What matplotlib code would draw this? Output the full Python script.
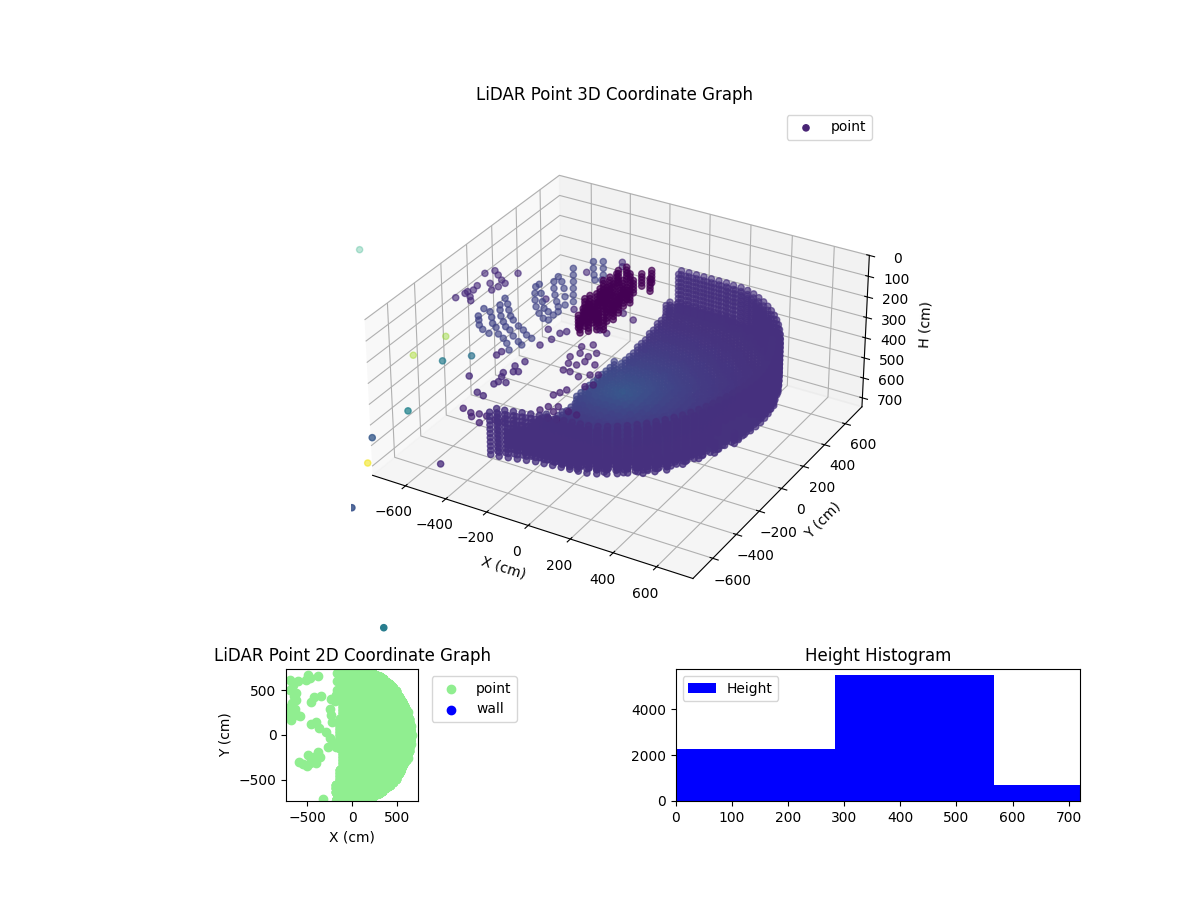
import numpy as np
import matplotlib
matplotlib.use('Agg')
import matplotlib.pyplot as plt

wall_x = [-186, -148, -110, -72, -34, 4, 42, 80, 118, 156, 194,
          232, 270, 306, 342, 376, 408, 438, 466, 492, 516, 538, 558, 576, 592, 606, 618, 630, 640, 648, 656, 660,
          662, 660, 656, 648, 638, 628, 616, 602, 586, 568, 548, 526, 502, 476, 448, 418, 386, 352, 316, 280, 242,
          204, 166, 128, 90, 52, 14, -24, -62, -100]
wall_y = [-765, -760, -750, -740, -730, -720, -715, -710, -705, -700, -695,
          -690, -675, -655, -632, -606, -578, -548, -516, -482, -446, -410, -372, -334, -296, -258, -218, -180, -140, -100, -60, -20,
          20, 60, 100, 140, 180, 218, 258, 296, 334, 372, 410, 446, 482, 516, 548, 578, 606, 632, 655, 675, 690,
          700, 700, 705, 705, 705, 705, 705, 705, 705]
wall_heights = [270, 290, 310, 330, 350, 370, 390, 410, 430, 450, 470]
wall_layers = [0.98, 0.93]

floor_x_grid = [-280, -245, -210, -175, -140, -105, -70, -35, 0, 35, 70, 105, 140, 175, 210, 245, 280, 315,
                350, 385, 420, 455, 490, 525, 560, 595, 630]
floor_y = [-665, -630, -595, -560, -525, -490, -455, -420, -385, -350, -315, -280, -245, -210, -175, -140, -105,
           -70, -35, 0, 35, 70, 105, 140, 175, 210, 245, 280, 315, 350, 385, 420, 455, 490, 525, 560, 595, 630, 665]
floor_x_start = [-170, -180, -180, -175, -170, -165, -165, -160, -150, -130, -110, -105, -105, -110, -130, -150, -170,
                 -170, -170, -170, -165, -160, -150, -150, -140, -135, -130, -125, -120, -120, -120, -120, -120, -120, -125, -130, -135, -140, -145]
floor_x_end = [180, 290, 380, 430, 465, 490, 515, 535, 555, 570, 585, 600, 610, 620, 630, 640, 645,
               650, 655, 655, 655, 650, 645, 640, 630, 625, 615, 605, 590, 575, 555, 535, 515, 490, 465, 430, 380, 290, 180]
# floor height by distance band from the scanner
floor_band_edges = [100, 200, 300, 400, 500, 600]
floor_band_heights = [530, 520, 508, 495, 480, 465, 450]
floor_layers = [-24, -8, 8, 24]

clutter_x = [-581, -610, -634, -650, -657, -595, -583, -575, -568, -561, -546, -532, -520, -505, -553, -554, -547, -536, -529, -522, -506, -485, -481,
             -566, -554, -546, -536, -532, -509, -496, -485, -474, -507, -511, -511, -509, -499, -491, -496, -505, -488, -476, -472, -472, -469, -498,
             -463, -480, -493, -503, -521, -470, -482, -490, -495, -503, -453, -460, -467, -474, -481, -487, -409, -441, -471, -507, -372, -403, -435, -481]
clutter_y = [-205, -158, -119, -69, -10, -139, -111, -111, -116, -101, -107, -91, -83, -90, -78, -77, -82, -81, -75, -53, -53, -46, -26,
             -17, -16, -20, -23, -9, -5, 13, 21, 44, 137, 136, 136, 140, 147, 168, 219, 163, 149, 139, 145, 179, 215, 304,
             215, 242, 271, 301, 343, 263, 311, 342, 358, 371, 361, 372, 384, 394, 405, 415, 458, 511, 567, 636, 480, 533, 587, 651]
clutter_h = [200, 250, 300, 350, 400, 200, 225, 250, 275, 300, 325, 350, 375, 400, 200, 225, 250, 275, 300, 325, 350, 375, 400,
             200, 225, 250, 275, 300, 325, 350, 375, 400, 200, 233, 266, 300, 333, 366, 400, 200, 233, 266, 300, 333, 366, 400,
             200, 250, 300, 350, 400, 200, 250, 300, 350, 400, 200, 240, 280, 320, 360, 400, 200, 266, 333, 400, 200, 266, 333, 400]
clutter_colour = 0.2

blob_x = [-117, -171, -181, -190, -122, -80, -75, -100, -139, -148, -165, -155, -131, -114, -83, -58, -49, -172, -176, -141, -123, -113, -96, -72, -47,
          -138, -126, -110, -100, -76, -53, -37, -79, -57, -26, -165, -180, -99, -76, -53, -29]
blob_y = [213, 250, 210, 171, 279, 234, 169, 155, 166, 127, 100, 55, 69, 96, 97, 111, 150, 28, -7, -37, -27, -4, 22, 36, 50,
          -85, -144, -118, -80, -66, -36, -10, 304, 351, 282, 324, 280, -177, -148, -119, -105]
blob_layers = [100, 115, 130, 145, 160]
blob_colour = 0.0

mid_x = [-244, -177, -257, -217, -216, -251, -228, -167, -183, -174, -123, -133, -98, -68, -250, -227, -217, -185, -190,
         -146, -132, -119, -67, -44, -131, -76, -115, -79, -23, 20, -67, -30]
mid_y = [433, 403, 254, 243, 127, 89, 37, 72, 30, -14, -17, -136, -100, -82, -9, -61, -120, -118, -56,
         -318, -288, -255, -194, -165, -449, -433, -409, -389, -402, -408, -489, -483]
mid_height = 400
mid_colour = 0.1

front_x = [-458, -412, -376, -341, -338, -392, -294, -257, -214, -178]
front_y = [-526, -540, -531, -530, -590, -565, -540, -534, -524, -519]
front_height = 450

sparse_x = [-863, -838, -804, -766, -737, -794, -755, -746, -737, -831, -838, -839, -804, -782, -853, -824, -391, -370, -480, -319, -355,
            -508, -360, -303, -299, -282, -433, -430, -320, -438, -301, -318, -299, -281, -331, -319, -278, -315, -309, -338, -302]
sparse_y = [287, 330, 303, 271, 253, 220, 172, 212, 360, 174, 107, 88, 74, 45, 35, 132, 679, 643, 519, 601, 201,
            220, -4, -71, -9, 18, -300, -265, -137, -504, -288, -339, -383, -372, -410, -442, -474, -508, -483, -599, -610]
sparse_height = 300
sparse_colour = 0.12

outlier_x = [-2817, -1500, -1534, -602, -520, -501, -509, -1174, -346, -286, 265]
outlier_y = [2058, 905, 675, -454, -358, -864, -1108, -232, -872, -1572, -2168]
outlier_h = [1500, 1100, 1100, 300, 300, 300, 300, 1100, 500, 300, 300]
outlier_c = [0.62, 0.85, 0.87, 0.42, 0.38, 0.45, 0.28, 0.98, 0.12, 0.26, 0.42]

# points seen only in the flat view
flat_x = [-694, -608, -694, -627, -627, -694, -664, -683, -578, -496, -515, -384, -422, -347, -459, -235, -459, -403, -366,
          -590, -496, -384, -440, -507, -403, -272, -321, -250, -240, -220, -290, -250, -210, -180,
          -170, -170, -170, -175, -190, -660, -650, -670, -640, -700, -620, -470, -420, -470, -360, -550,
          665, 660, 660, 620, 620]
flat_y = [616, 597, 504, 466, 392, 317, 243, 168, 213, 672, 616, 653, 422, 429, 366, 399, 119, 149, 75,
          -299, -224, -187, -280, -347, -310, -131, -709, 290, 220, 150, 30, -30, -90, -130,
          690, 600, 500, 440, 380, 560, 430, 360, 290, 230, 220, 640, -250, -310, -250, -320,
          0, 100, -100, 260, -260]

hist_edges = [0, 283.5, 567, 850]
hist_counts = [2280, 5480, 680]

# expand wall columns and floor rows into points
px, py, ph = [], [], []
for x, y in zip(wall_x, wall_y):
    for layer in wall_layers:
        for h in wall_heights:
            px.append(x * layer)
            py.append(y * layer)
            ph.append(h)
for y, x0, x1 in zip(floor_y, floor_x_start, floor_x_end):
    for x in floor_x_grid:
        if x0 <= x <= x1:
            band = np.digitize(np.hypot(x, y), floor_band_edges)
            for dh in floor_layers:
                px.append(x)
                py.append(y)
                ph.append(floor_band_heights[band] + dh)
px, py, ph = np.array(px), np.array(py), np.array(ph)
colour = 0.14 + 0.13 * (ph / 500) * np.clip(1 - np.hypot(px, py) / 700, 0, 1) ** 2

blob_xs = np.tile(blob_x, len(blob_layers))
blob_ys = np.tile(blob_y, len(blob_layers))
blob_hs = np.repeat(blob_layers, len(blob_x))

# mid points come first, the legend marker takes its colour from them
all_x = np.r_[mid_x, px, clutter_x, blob_xs, front_x, sparse_x, outlier_x]
all_y = np.r_[mid_y, py, clutter_y, blob_ys, front_y, sparse_y, outlier_y]
all_h = np.r_[np.full(len(mid_x), mid_height), ph, clutter_h, blob_hs,
              np.full(len(front_x), front_height), np.full(len(sparse_x), sparse_height), outlier_h]
all_c = np.r_[np.full(len(mid_x), mid_colour), colour, np.full(len(clutter_x), clutter_colour),
              np.full(len(blob_xs), blob_colour), np.full(len(front_x), mid_colour),
              np.full(len(sparse_x), sparse_colour), outlier_c]

fig = plt.figure(figsize=(12, 9), dpi=100)
gs = fig.add_gridspec(2, 2, height_ratios=[4, 1], hspace=0.1, wspace=0.3)

ax = fig.add_subplot(gs[0, :], projection='3d')
ax.scatter(all_x, all_y, all_h, c=all_c, cmap='viridis', vmin=0, vmax=1, label='point')
ax.set_xlim(-765, 765)
ax.set_ylim(-765, 765)
ax.set_zlim(745, 0)
ax.set_aspect('equal')
ax.set_title('LiDAR Point 3D Coordinate Graph')
ax.set_xlabel('X (cm)')
ax.set_ylabel('Y (cm)')
ax.set_zlabel('H (cm)')
ax.legend(loc='upper right')

ax2 = fig.add_subplot(gs[1, 0])
ax2.scatter(np.r_[px, flat_x], np.r_[py, flat_y], color='lightgreen', label='point')
ax2.scatter([], [], color='blue', label='wall')
ax2.set_xlim(-735, 735)
ax2.set_ylim(-735, 735)
ax2.set_aspect('equal')
ax2.set_title('LiDAR Point 2D Coordinate Graph')
ax2.set_xlabel('X (cm)')
ax2.set_ylabel('Y (cm)')
ax2.legend(loc='upper left', bbox_to_anchor=(1.05, 1))

ax3 = fig.add_subplot(gs[1, 1])
ax3.bar(hist_edges[:-1], hist_counts, width=np.diff(hist_edges), align='edge', color='blue', label='Height')
ax3.set_xlim(0, 720)
ax3.set_ylim(0, 5750)
ax3.set_title('Height Histogram')
ax3.legend(loc='upper left')

fig.savefig('out.png')
